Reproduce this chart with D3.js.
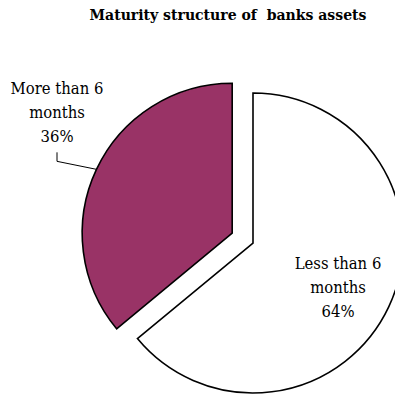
<!DOCTYPE html>
<html>
<head>
<meta charset="utf-8">
<script src="https://cdn.jsdelivr.net/npm/d3@7"></script>
<style>
  html, body { margin: 0; padding: 0; background: #fff; }
  svg { display: block; }
</style>
</head>
<body>
<svg id="chart" width="395" height="395"></svg>
<script>
// Maturity structure of bank assets, share of total (%)
const categories = ["Less than 6 months", "More than 6 months"];
const labelLines = [["Less than 6", "months"], ["More than 6", "months"]];
const values = [64, 36];
const colors = ["#ffffff", "#993366"];
const title = "Maturity structure of\u00a0 banks assets";

const FONT = "'DejaVu Serif Condensed', 'DejaVu Serif', serif";

const svg = d3.select("#chart");
const cx = 253, cy = 243, R = 150;
const explode = [0, 23];

svg.append("text")
  .attr("x", 228).attr("y", 20)
  .attr("text-anchor", "middle")
  .attr("font-family", FONT)
  .attr("font-stretch", "condensed")
  .attr("font-weight", "bold")
  .attr("font-size", 15.6)
  .text(title);

const pie = d3.pie().sort(null).value(d => d)(values);
const arc = d3.arc().innerRadius(0).outerRadius(R);

const g = svg.append("g").attr("transform", `translate(${cx},${cy})`);

pie.forEach((p, i) => {
  const mid = (p.startAngle + p.endAngle) / 2;
  const dx = Math.sin(mid) * explode[i], dy = -Math.cos(mid) * explode[i];
  g.append("g").attr("transform", `translate(${dx},${dy})`)
    .append("path")
    .attr("d", arc(p))
    .attr("fill", colors[i])
    .attr("stroke", "#000")
    .attr("stroke-width", 1.6)
    .attr("stroke-linejoin", "miter");
});

function label(x, y0, lines) {
  const t = svg.append("text")
    .attr("text-anchor", "middle")
    .attr("font-family", FONT)
    .attr("font-stretch", "condensed")
    .attr("font-size", 16.5);
  lines.forEach((s, k) => {
    t.append("tspan").attr("x", x).attr("y", y0 + k * 24).text(s);
  });
}

// Larger slice: label inside
label(338, 269, [...labelLines[0], values[0] + "%"]);

// Exploded slice: label outside with a leader line to the arc midpoint
{
  const p = pie[1];
  const mid = (p.startAngle + p.endAngle) / 2;
  const ox = cx + Math.sin(mid) * explode[1], oy = cy - Math.cos(mid) * explode[1];
  const ax = ox + Math.sin(mid) * R, ay = oy - Math.cos(mid) * R;
  const lx = 57;
  svg.append("polyline")
    .attr("points", `${ax},${ay} ${lx},${ay - 8} ${lx},${ay - 17}`)
    .attr("fill", "none")
    .attr("stroke", "#000")
    .attr("stroke-width", 1);
  label(lx, 94, [...labelLines[1], values[1] + "%"]);
}
</script>
</body>
</html>
